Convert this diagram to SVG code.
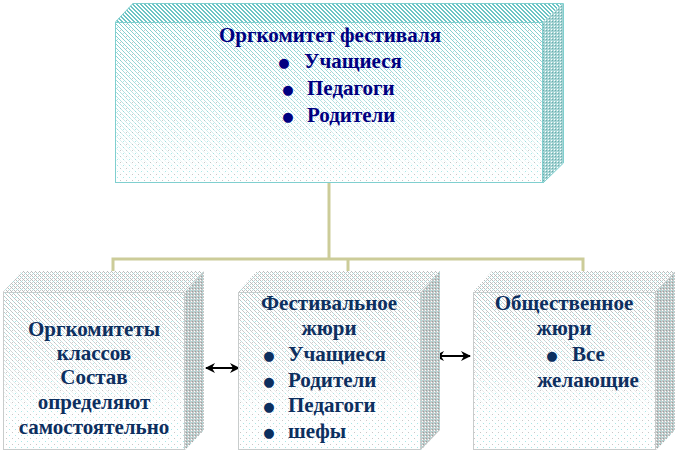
<svg xmlns="http://www.w3.org/2000/svg" width="678" height="454" viewBox="0 0 678 454">
<style>
  .t1 { font-family: "Liberation Serif", "Times New Roman", serif; font-weight: bold; font-size: 21px; fill: #000080; }
  .t2 { font-family: "Liberation Serif", "Times New Roman", serif; font-weight: bold; font-size: 21px; fill: #0d2f5f; }
  .b1 { font-family: "DejaVu Sans", sans-serif; font-size: 13px; fill: #000080; text-anchor: middle; }
  .b2 { font-family: "DejaVu Sans", sans-serif; font-size: 13px; fill: #0d2f5f; text-anchor: middle; }
  .mid { text-anchor: middle; }
  .conn { fill: none; stroke: #cccc99; stroke-width: 3; }
  .arr { stroke: #000; stroke-width: 2; marker-start: url(#ah); marker-end: url(#ah); }
  .edgeT { fill: none; stroke: #7fcfcf; stroke-width: 1; }
  .edgeG { fill: none; stroke: #c8cccc; stroke-width: 1; }
</style>
<defs>
  <marker id="ah" viewBox="0 0 10 10" refX="9" refY="5" markerWidth="5" markerHeight="5" orient="auto-start-reverse" markerUnits="strokeWidth">
    <path d="M0,0 L10,5 L0,10 L3,5 Z" fill="#000"/>
  </marker>
  <pattern id="pTealTop" width="4" height="4" patternUnits="userSpaceOnUse">
    <rect width="4" height="4" fill="#ffffff"/>
    <rect x="0" y="0" width="2" height="1" fill="#6cc4c4"/>
    <rect x="1" y="1" width="2" height="1" fill="#6cc4c4"/>
    <rect x="2" y="2" width="2" height="1" fill="#6cc4c4"/>
    <rect x="3" y="3" width="1" height="1" fill="#6cc4c4"/>
    <rect x="0" y="3" width="1" height="1" fill="#6cc4c4"/>
  </pattern>
  <pattern id="pTealSide" width="3" height="3" patternUnits="userSpaceOnUse">
    <rect width="3" height="3" fill="#a6d4d4"/>
    <rect x="0" y="0" width="1" height="1" fill="#6aacac"/>
    <rect x="2" y="2" width="1" height="1" fill="#ffffff"/>
  </pattern>
  <pattern id="pTealDiag" width="4" height="4" patternUnits="userSpaceOnUse">
    <rect x="0" y="0" width="1" height="1" fill="#7fcccc"/>
    <rect x="1" y="1" width="1" height="1" fill="#7fcccc"/>
    <rect x="2" y="2" width="1" height="1" fill="#7fcccc"/>
    <rect x="3" y="3" width="1" height="1" fill="#7fcccc"/>
  </pattern>
  <pattern id="pDots" width="6" height="6" patternUnits="userSpaceOnUse">
    <rect x="0" y="0" width="1" height="1" fill="#c8c8c8"/>
    <rect x="3" y="3" width="1" height="1" fill="#a8e8e8"/>
  </pattern>
  <pattern id="pGreyTop" width="4" height="4" patternUnits="userSpaceOnUse">
    <rect width="4" height="4" fill="#ffffff"/>
    <rect x="0" y="0" width="1" height="1" fill="#b8bcbc"/>
    <rect x="1" y="1" width="1" height="1" fill="#a8dede"/>
    <rect x="2" y="2" width="1" height="1" fill="#b8bcbc"/>
    <rect x="3" y="3" width="1" height="1" fill="#b8bcbc"/>
    <rect x="2" y="0" width="1" height="1" fill="#c8cccc"/>
    <rect x="0" y="2" width="1" height="1" fill="#c8cccc"/>
  </pattern>
  <pattern id="pGreyDiag" width="4" height="4" patternUnits="userSpaceOnUse">
    <rect x="0" y="0" width="1" height="1" fill="#bcc0c0"/>
    <rect x="1" y="1" width="1" height="1" fill="#a8dcdc"/>
    <rect x="2" y="2" width="1" height="1" fill="#bcc0c0"/>
    <rect x="3" y="3" width="1" height="1" fill="#bcc0c0"/>
  </pattern>
  <pattern id="pGreySide" width="3" height="3" patternUnits="userSpaceOnUse">
    <rect width="3" height="3" fill="#c4c8c8"/>
    <rect x="0" y="0" width="1" height="1" fill="#9a9e9e"/>
    <rect x="2" y="1" width="1" height="1" fill="#ffffff"/>
    <rect x="1" y="2" width="1" height="1" fill="#a8e0e0"/>
  </pattern>
  <linearGradient id="gFade" x1="0" y1="0" x2="0" y2="1">
    <stop offset="0" stop-color="#fff" stop-opacity="1"/>
    <stop offset="0.55" stop-color="#fff" stop-opacity="0.5"/>
    <stop offset="1" stop-color="#fff" stop-opacity="0"/>
  </linearGradient>
  <mask id="mTop" maskContentUnits="objectBoundingBox">
    <rect width="1" height="1" fill="url(#gFade)"/>
  </mask>
  <linearGradient id="gFadeB" x1="0" y1="0" x2="0" y2="1">
    <stop offset="0" stop-color="#fff" stop-opacity="1"/>
    <stop offset="0.45" stop-color="#fff" stop-opacity="0.6"/>
    <stop offset="0.75" stop-color="#fff" stop-opacity="0.1"/>
    <stop offset="1" stop-color="#fff" stop-opacity="0"/>
  </linearGradient>
  <mask id="mBot" maskContentUnits="objectBoundingBox">
    <rect width="1" height="1" fill="url(#gFadeB)"/>
  </mask>
</defs>
<rect width="678" height="454" fill="#ffffff"/>

<g id="connectors">
  <polyline class="conn" points="329,183 329,259"/>
  <polyline class="conn" points="113,272 113,259 583,259 583,272"/>
  <polyline class="conn" points="348,259 348,272"/>
  <line class="arr" x1="206" y1="368" x2="239" y2="368"/>
  <line class="arr" x1="435" y1="356" x2="470" y2="356"/>
</g>

<g id="orgkomitet">
  <polygon points="115,22 133,3 563,3 543,22" fill="url(#pTealTop)"/>
  <polygon points="543,22 563,3 563,163 543,183" fill="url(#pTealSide)"/>
  <rect x="115" y="22" width="428" height="161" fill="#ffffff"/>
  <rect x="115" y="22" width="428" height="161" fill="url(#pDots)"/>
  <rect x="115" y="22" width="428" height="161" fill="url(#pTealDiag)" mask="url(#mTop)"/>
  <rect class="edgeT" x="115.5" y="22.5" width="427" height="160"/>
  <polyline class="edgeT" points="115.5,22 133,3.5 563.5,3.5 563.5,163 543,183"/>
  <text class="t1 mid" x="330" y="42">Оргкомитет фестиваля</text>
  <text class="b1" x="284" y="67">●</text><text class="t1" x="304" y="68">Учащиеся</text>
  <text class="b1" x="288" y="94">●</text><text class="t1" x="307" y="95">Педагоги</text>
  <text class="b1" x="288" y="121">●</text><text class="t1" x="307" y="122">Родители</text>
</g>

<g id="orgkomitety-klassov">
  <polygon points="3,292 22,271 204,271 185,292" fill="url(#pGreyTop)"/>
  <polygon points="185,292 204,271 204,430 185,450" fill="url(#pGreySide)"/>
  <rect x="3" y="292" width="182" height="158" fill="#ffffff"/>
  <rect x="3" y="292" width="182" height="158" fill="url(#pDots)"/>
  <rect x="3" y="292" width="182" height="158" fill="url(#pGreyDiag)" mask="url(#mBot)"/>
  <rect class="edgeG" x="3.5" y="292.5" width="181" height="157"/>
  <text class="t2 mid" x="94" y="336">Оргкомитеты</text>
  <text class="t2 mid" x="94" y="360">классов</text>
  <text class="t2 mid" x="94" y="384">Состав</text>
  <text class="t2 mid" x="94" y="409">определяют</text>
  <text class="t2 mid" x="94" y="434">самостоятельно</text>
</g>

<g id="festivalnoe-zhyuri">
  <polygon points="238,292 257,271 440,271 421,292" fill="url(#pGreyTop)"/>
  <polygon points="421,292 440,271 440,430 421,450" fill="url(#pGreySide)"/>
  <rect x="238" y="292" width="183" height="158" fill="#ffffff"/>
  <rect x="238" y="292" width="183" height="158" fill="url(#pDots)"/>
  <rect x="238" y="292" width="183" height="158" fill="url(#pGreyDiag)" mask="url(#mBot)"/>
  <rect class="edgeG" x="238.5" y="292.5" width="182" height="157"/>
  <text class="t2 mid" x="329" y="310">Фестивальное</text>
  <text class="t2 mid" x="329" y="335">жюри</text>
  <text class="b2" x="269" y="360">●</text><text class="t2" x="288" y="361">Учащиеся</text>
  <text class="b2" x="269" y="386">●</text><text class="t2" x="288" y="387">Родители</text>
  <text class="b2" x="269" y="411">●</text><text class="t2" x="288" y="412">Педагоги</text>
  <text class="b2" x="269" y="437">●</text><text class="t2" x="288" y="438">шефы</text>
</g>

<g id="obshchestvennoe-zhyuri">
  <polygon points="473,292 492,271 675,271 656,292" fill="url(#pGreyTop)"/>
  <polygon points="656,292 675,271 675,430 656,450" fill="url(#pGreySide)"/>
  <rect x="473" y="292" width="183" height="158" fill="#ffffff"/>
  <rect x="473" y="292" width="183" height="158" fill="url(#pDots)"/>
  <rect x="473" y="292" width="183" height="158" fill="url(#pGreyDiag)" mask="url(#mBot)"/>
  <rect class="edgeG" x="473.5" y="292.5" width="182" height="157"/>
  <text class="t2 mid" x="564" y="310">Общественное</text>
  <text class="t2 mid" x="564" y="335">жюри</text>
  <text class="b2" x="552" y="360">●</text><text class="t2" x="572" y="361">Все</text>
  <text class="t2 mid" x="588" y="387">желающие</text>
</g>
</svg>
